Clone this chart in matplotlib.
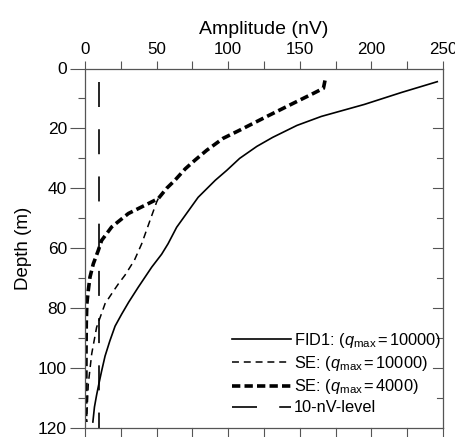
import numpy as np
import matplotlib
matplotlib.use("Agg")
import matplotlib.pyplot as plt

plt.rcParams['font.family'] = ['Liberation Sans', 'DejaVu Sans']
plt.rcParams['mathtext.fontset'] = 'custom'
plt.rcParams['mathtext.rm'] = 'Liberation Sans'
plt.rcParams['mathtext.it'] = 'Liberation Sans:italic'
plt.rcParams['lines.scale_dashes'] = False

# FID1 (q_max = 10000)
fid_depth = [4.4, 8, 12, 16, 19, 23, 26, 30, 34, 37.3, 43, 49, 53, 58.5, 62,
             66.3, 73, 78, 82, 86, 91, 96, 101, 105, 109, 113, 118]
fid_amp = [246, 221, 195, 165, 148, 131, 120, 108, 99, 91, 79, 70, 64, 58, 53.5,
           46.6, 37.2, 30.5, 25.6, 21, 17.3, 14, 11.6, 9.8, 8.1, 6.6, 5.5]

# SE (q_max = 10000)
se1_depth = [43.4, 44.6, 50.7, 58.5, 64, 69, 71.9, 73.5, 78.5, 86.4, 95.2,
             105.3, 116.4, 118]
se1_amp = [51.2, 50, 45.4, 39.6, 34.5, 27.9, 23.3, 21, 14, 8.1, 4.7,
           2.3, 1.2, 1.1]

# SE (q_max = 4000)
se2_depth = [4, 6.6, 8.3, 11.6, 16, 20.6, 23.3, 27.3, 30.6, 33.5, 37.3, 40,
             43.4, 45.1, 48.4, 52.9, 57.4, 60.7, 65.2, 69.6, 74, 78.5, 85, 95,
             105, 118]
se2_amp = [167.6, 166.5, 159.5, 145.5, 127, 108, 96.5, 85, 76.8, 70, 62.8, 57,
           51.2, 44.2, 30.3, 18.6, 11.6, 9.3, 5.8, 3.5, 2.3, 1.3, 0.9, 0.7,
           0.6, 0.5]

# 10-nV level
lvl_depth = [4.5, 120]
lvl_amp = [10, 10]

labels = [r'FID1: ($q_{\mathrm{max}}\,$=$\,$10000)',
          r'SE: ($q_{\mathrm{max}}\,$=$\,$10000)',
          r'SE: ($q_{\mathrm{max}}\,$=$\,$4000)',
          '10-nV-level']

fig = plt.figure(figsize=(4.55, 4.37), dpi=100)
ax = fig.add_axes([85/455, 1-428/437, 358/455, 359.5/437])

ax.plot(fid_amp, fid_depth, color='black', lw=1.2, label=labels[0])
ax.plot(se1_amp, se1_depth, color='black', lw=1.1, dashes=(5, 3.5), label=labels[1])
ax.plot(se2_amp, se2_depth, color='black', lw=2.6, dashes=(6, 3), label=labels[2])
ax.plot(lvl_amp, lvl_depth, color='black', lw=1.2, dashes=(18, 16), label=labels[3])

ax.set_xlim(0, 250)
ax.set_ylim(120, 0)

ax.xaxis.set_label_position('top')
ax.set_xlabel('Amplitude (nV)', fontsize=14, labelpad=6)
ax.set_ylabel('Depth (m)', fontsize=13.5, labelpad=4)

ax.set_xticks(np.arange(0, 251, 50))
ax.set_xticks(np.arange(25, 250, 50), minor=True)
ax.set_yticks(np.arange(0, 121, 20))
ax.set_yticks(np.arange(10, 120, 20), minor=True)

ax.tick_params(axis='x', which='both', top=True, bottom=False, labeltop=True,
               labelbottom=False, direction='out', length=6, width=0.8,
               colors='#555555', labelcolor='black', labelsize=12.2, pad=2)
ax.tick_params(axis='y', which='major', direction='out', length=11, width=0.8,
               colors='#555555', labelcolor='black', labelsize=12.5, pad=2)
ax.tick_params(axis='y', which='minor', direction='out', length=5, width=0.8,
               colors='#555555')

# bottom and right ticks without labels
for x in np.arange(0, 251, 25):
    ax.plot([x, x], [120, 122.6], color='#555555', lw=0.8, clip_on=False)
for y in np.arange(10, 120, 10):
    ln = 7 if y % 20 == 0 else 4.5
    ax.plot([250 - ln, 250], [y, y], color='#555555', lw=0.8)

for s in ax.spines.values():
    s.set_color('#555555')
    s.set_linewidth(0.9)

ax.legend(loc='lower right', bbox_to_anchor=(0.995, 0.035), frameon=False,
          fontsize=11.8, handlelength=3.6, handletextpad=0.15,
          labelspacing=0.25, borderpad=0, borderaxespad=0)

fig.savefig('out.png', dpi=100)
